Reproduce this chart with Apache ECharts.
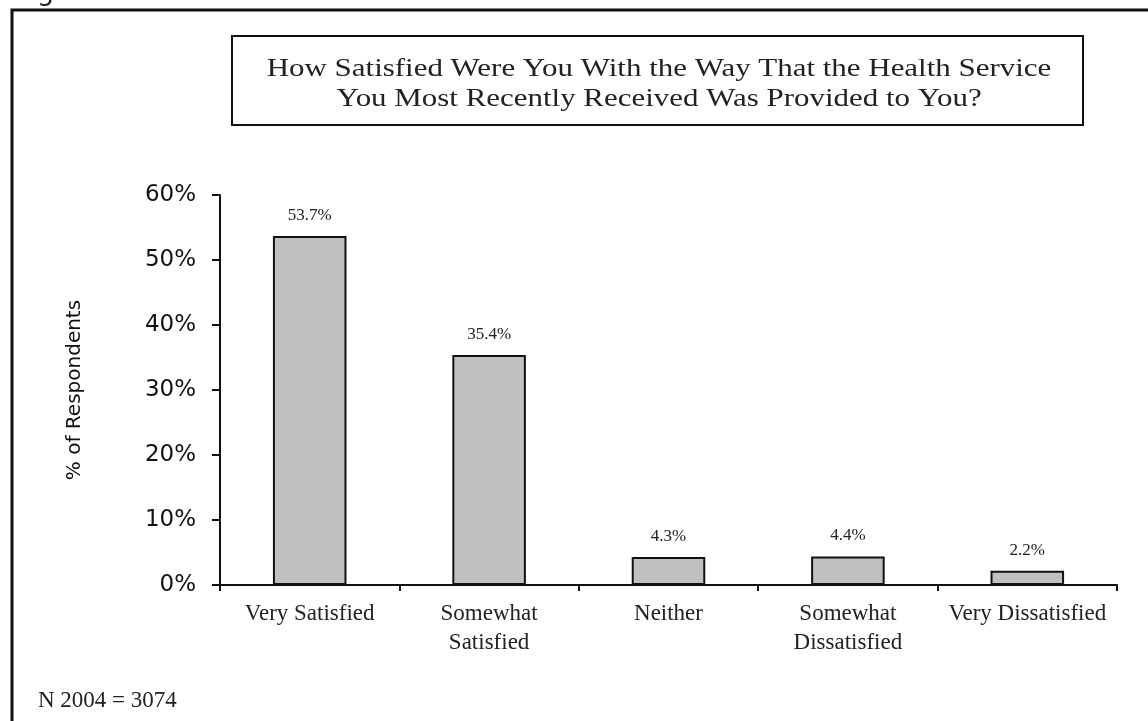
<!DOCTYPE html>
<html>
<head>
<meta charset="utf-8">
<script src="https://cdn.jsdelivr.net/npm/echarts@6/dist/echarts.min.js"></script>
<style>
html,body{margin:0;padding:0;background:#fff;}
#chart{width:1148px;height:721px;}
</style>
</head>
<body>
<div id="chart"></div>
<script>
const categories = ['Very Satisfied', 'Somewhat\nSatisfied', 'Neither', 'Somewhat\nDissatisfied', 'Very Dissatisfied'];
const values = [53.7, 35.4, 4.3, 4.4, 2.2];
const yTicks = { min: 0, max: 60, interval: 10 };
const titleLines = ['How Satisfied Were You With the Way That the Health Service', 'You Most Recently Received Was Provided to You?'];
const figureLabel = 'Figure 38';
const footnote = 'N 2004 = 3074';
const yAxisName = '% of Respondents';

const chart = echarts.init(document.getElementById('chart'));
const serif = '"Liberation Serif", "Times New Roman", serif';
const sans = '"DejaVu Sans", Verdana, sans-serif';

chart.setOption({
  animation: false,
  backgroundColor: '#fff',
  grid: { left: 220, right: 31, top: 195, bottom: 136, containLabel: false },
  xAxis: {
    type: 'category',
    data: categories,
    axisLine: { lineStyle: { color: '#111', width: 2 } },
    axisTick: { show: true, length: 6, lineStyle: { color: '#111', width: 2 } },
    axisLabel: { fontFamily: serif, fontSize: 23, color: '#222', margin: 14, lineHeight: 29, interval: 0 }
  },
  yAxis: {
    type: 'value',
    min: yTicks.min, max: yTicks.max, interval: yTicks.interval,
    name: yAxisName,
    nameLocation: 'middle',
    nameRotate: 90,
    nameGap: 135,
    nameTextStyle: { fontFamily: sans, fontSize: 20, color: '#111' },
    axisLine: { show: true, lineStyle: { color: '#111', width: 2 } },
    axisTick: { show: true, length: 8, lineStyle: { color: '#111', width: 2 } },
    splitLine: { show: false },
    axisLabel: { formatter: '{value}%', fontFamily: sans, fontSize: 23, color: '#111', margin: 24 }
  },
  series: [{
    type: 'bar',
    data: values,
    barWidth: '41%',
    itemStyle: { color: '#c0c0c0', borderColor: '#111', borderWidth: 2 },
    label: {
      show: true, position: 'top', distance: 12,
      formatter: p => p.value.toFixed(1) + '%',
      fontFamily: serif, fontSize: 17, color: '#222'
    }
  }],
  graphic: [
    { type: 'text', x: 16, y: -21, style: { text: figureLabel, font: '27px ' + sans, fill: '#222' } },
    { type: 'rect', shape: { x: 12, y: 10, width: 1200, height: 800 }, style: { fill: 'none', stroke: '#111', lineWidth: 3 }, silent: true },
    { type: 'rect', shape: { x: 232, y: 36, width: 851, height: 89 }, style: { fill: '#fff', stroke: '#111', lineWidth: 2 } },
    { type: 'text', x: 659, y: 84, scaleX: 1.19, style: { text: titleLines.join('\n'), font: '26px ' + serif, fill: '#222', align: 'center', verticalAlign: 'middle', lineHeight: 30 } },
    { type: 'text', left: 38, top: 689, style: { text: footnote, font: '23px ' + serif, fill: '#222' } }
  ]
});
</script>
</body>
</html>
